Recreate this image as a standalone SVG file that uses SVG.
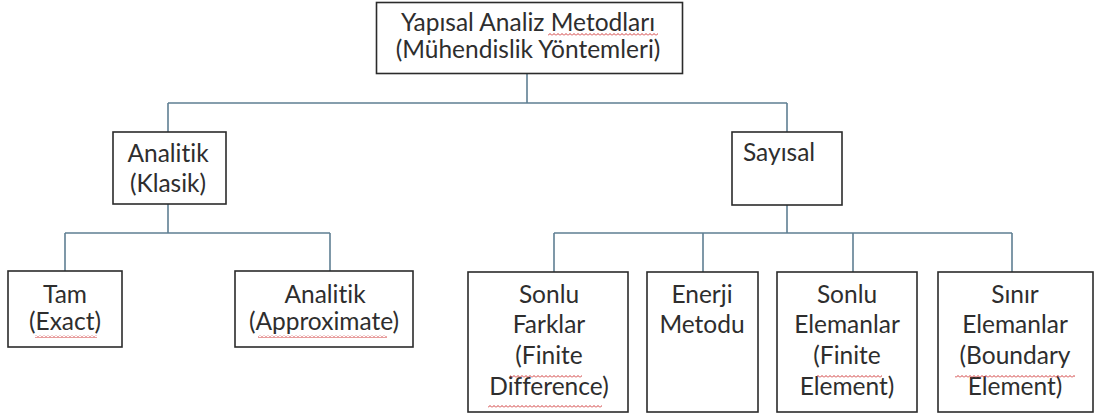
<svg xmlns="http://www.w3.org/2000/svg" width="1101" height="418" viewBox="0 0 1101 418">
<style>
.box{fill:#fff;stroke:#2b2b2b;stroke-width:1.6}
.t{font-family:Lato,"Liberation Sans",sans-serif;font-size:24.5px;fill:#2e2e2e;text-anchor:middle;font-variant-ligatures:none;font-feature-settings:"liga" 0,"clig" 0}
.l{text-anchor:start}
.c{fill:none;stroke:#5f7f93;stroke-width:1.6}
.sq{fill:url(#wave)}
</style>
<defs>
<pattern id="wave" width="4" height="3" patternUnits="userSpaceOnUse">
<path d="M0,2.5 L2,0.5 L4,2.5" fill="none" stroke="#d03a3a" stroke-width="1"/>
</pattern>
</defs>
<rect width="1101" height="418" fill="#fff"/>
<g id="connectors">
<path class="c" d="M527,73 V103 M168,103 H787 M168,103 V132 M787,103 V132"/>
<path class="c" d="M168,204 V233 M65,233 H330 M65,233 V271 M330,233 V271"/>
<path class="c" d="M787,205 V233 M554,233 H1012 M554,233 V272 M703,233 V272 M853,233 V272 M1012,233 V272"/>
</g>
<g id="root">
<rect class="box" x="376.5" y="2.5" width="306" height="71"/>
<text class="t" x="528" y="31">Yapısal Analiz Metodları</text>
<text class="t" x="528" y="58">(Mühendislik Yöntemleri)</text>
<rect class="sq" x="548" y="33" width="110" height="3"/>
</g>
<g id="analitik">
<rect class="box" x="113" y="132" width="113" height="72"/>
<text class="t" x="168" y="162">Analitik</text>
<text class="t" x="168" y="192">(Klasik)</text>
</g>
<g id="sayisal">
<rect class="box" x="732" y="132" width="110" height="73"/>
<text class="t l" x="743" y="161">Sayısal</text>
</g>
<g id="tam">
<rect class="box" x="8" y="271" width="114" height="76"/>
<text class="t" x="65" y="303">Tam</text>
<text class="t" x="65" y="330">(Exact)</text>
<rect class="sq" x="35" y="335" width="62" height="3"/>
</g>
<g id="approx">
<rect class="box" x="235" y="271" width="178" height="76"/>
<text class="t" x="325" y="303">Analitik</text>
<text class="t" x="324" y="330">(Approximate)</text>
<rect class="sq" x="258" y="335" width="129" height="3"/>
</g>
<g id="sonlu-farklar">
<rect class="box" x="468" y="272" width="160" height="140"/>
<text class="t" x="549" y="303">Sonlu</text>
<text class="t" x="549" y="333">Farklar</text>
<text class="t" x="549" y="364">(Finite</text>
<text class="t" x="549" y="395">Difference)</text>
<rect class="sq" x="510" y="375" width="72" height="3"/>
<rect class="sq" x="488" y="405" width="114" height="3"/>
</g>
<g id="enerji">
<rect class="box" x="647" y="272" width="111" height="140"/>
<text class="t" x="702" y="303">Enerji</text>
<text class="t" x="702" y="333">Metodu</text>
</g>
<g id="sonlu-elemanlar">
<rect class="box" x="777" y="272" width="140" height="140"/>
<text class="t" x="847" y="303">Sonlu</text>
<text class="t" x="847" y="333">Elemanlar</text>
<text class="t" x="847" y="364">(Finite</text>
<text class="t" x="847" y="395">Element)</text>
<rect class="sq" x="817" y="375" width="65" height="3"/>
</g>
<g id="sinir">
<rect class="box" x="938" y="272" width="155" height="140"/>
<text class="t" x="1015" y="303">Sınır</text>
<text class="t" x="1015" y="333">Elemanlar</text>
<text class="t" x="1015" y="364">(Boundary</text>
<text class="t" x="1015" y="395">Element)</text>
<rect class="sq" x="955" y="375" width="120" height="3"/>
</g>
</svg>
